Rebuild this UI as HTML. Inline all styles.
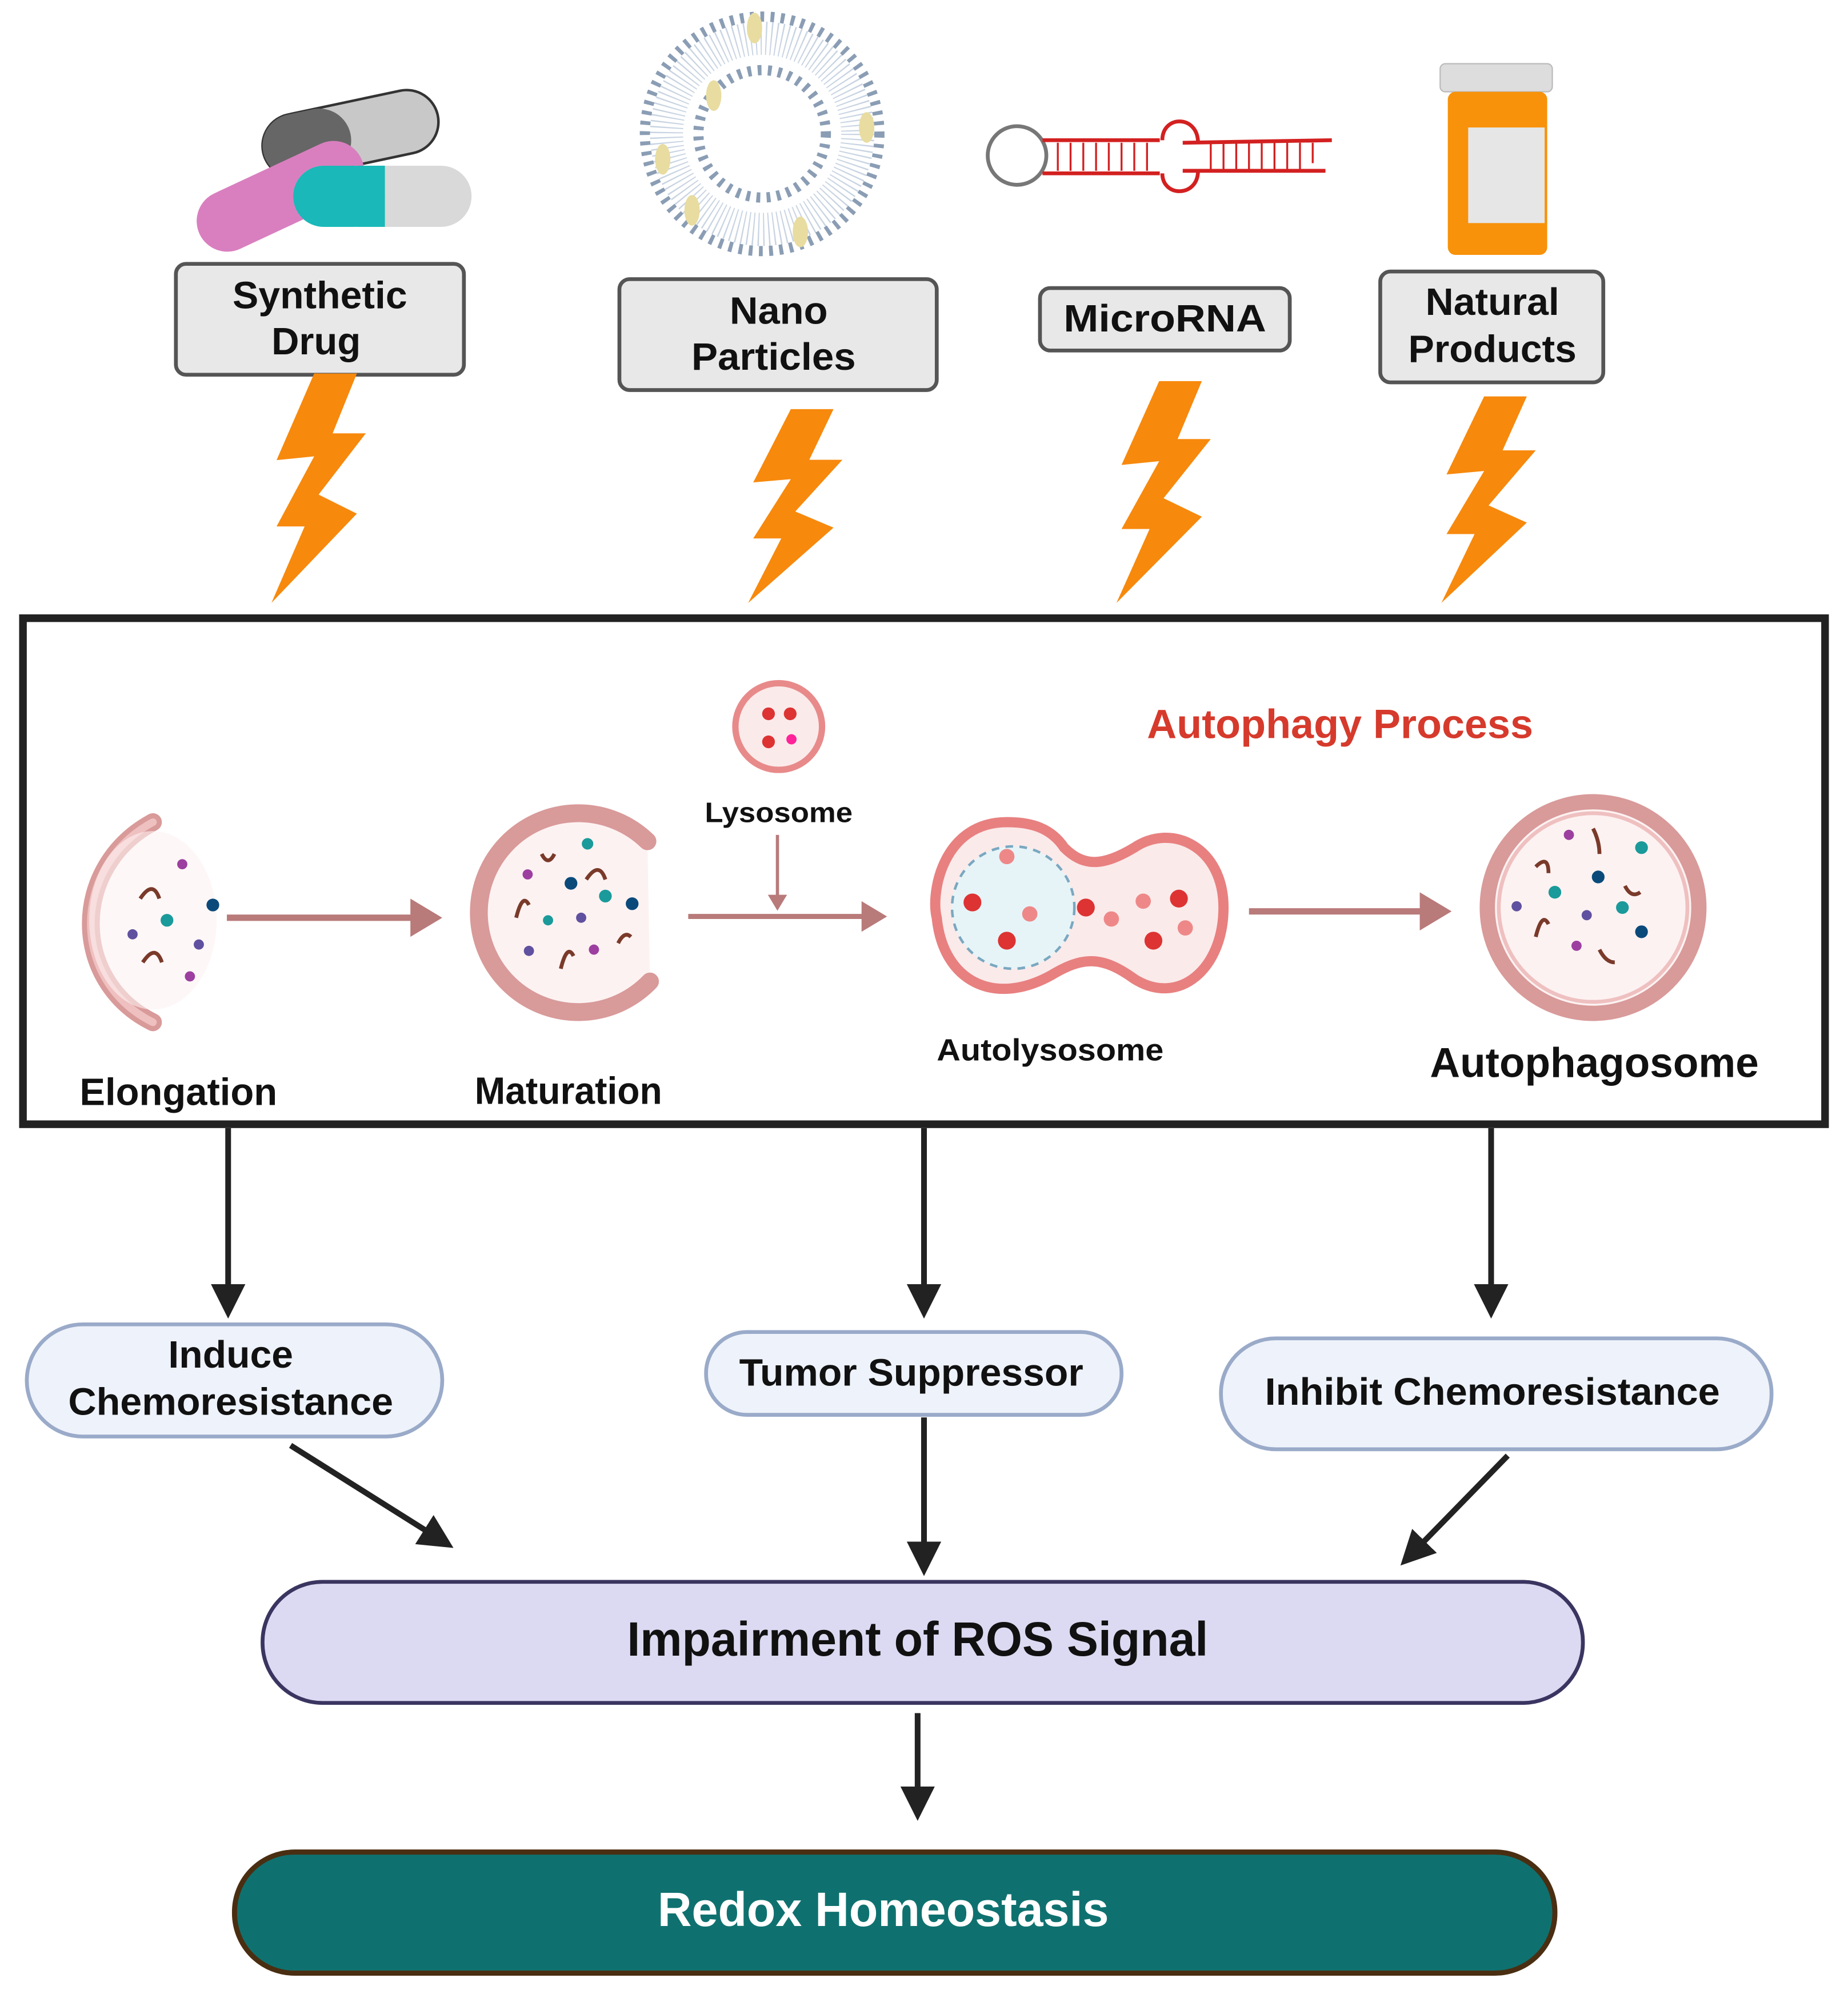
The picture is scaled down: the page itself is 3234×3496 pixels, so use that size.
<!DOCTYPE html>
<html><head><meta charset="utf-8"><style>html,body{margin:0;padding:0;background:#fff}svg{display:block}text{font-family:"Liberation Sans",sans-serif;font-weight:bold}</style></head>
<body>
<svg width="3234" height="3496" viewBox="0 0 1450 1567.5" xmlns="http://www.w3.org/2000/svg">
<defs>
<marker id="ah" markerWidth="6" markerHeight="6" refX="5" refY="3" orient="auto" markerUnits="strokeWidth"><path d="M0,0 L6,3 L0,6 z" fill="#222"/></marker>
<marker id="ap" markerWidth="5" markerHeight="6" refX="4" refY="3" orient="auto" markerUnits="strokeWidth"><path d="M0,0 L5,3 L0,6 z" fill="#b97a7a"/></marker>
<polygon id="bolt" points="33.5,0 67,0 48,47 74,47 37,95 67,110 0,180 26,120 4,120 33.5,65 4,68" fill="#f7890d"/>
</defs>
<rect width="1450" height="1567.5" fill="#fff"/>

<!-- capsules -->
<g>
<rect x="205" y="80" width="140" height="50" rx="25" fill="#c8c8c8" stroke="#333" stroke-width="2" transform="rotate(-12 275 105)"/>
<rect x="205" y="80" width="70" height="50" rx="25" fill="#666" transform="rotate(-12 275 105)"/>
<rect x="150" y="130" width="140" height="48" rx="24" fill="#d97fbf" transform="rotate(-25 220 154)"/>
<rect x="230" y="130" width="140" height="48" rx="24" fill="#d9d9d9"/>
<rect x="230" y="130" width="72" height="48" rx="24" fill="#1ab8b8"/>
<rect x="280" y="130" width="22" height="48" fill="#1ab8b8"/>
</g>
<!-- liposome -->
<g fill="none">
<circle cx="598" cy="105" r="92" stroke="#8a9db4" stroke-width="8" stroke-dasharray="3 5"/>
<circle cx="598" cy="105" r="75" stroke="#c9d4e2" stroke-width="26" stroke-dasharray="1 3"/>
<circle cx="598" cy="105" r="50" stroke="#8a9db4" stroke-width="8" stroke-dasharray="3 5"/>
<ellipse cx="592" cy="22" rx="6" ry="12" fill="#e8dca0"/>
<ellipse cx="560" cy="75" rx="6" ry="12" fill="#e8dca0"/>
<ellipse cx="680" cy="100" rx="6" ry="12" fill="#e8dca0"/>
<ellipse cx="520" cy="125" rx="6" ry="12" fill="#e8dca0"/>
<ellipse cx="543" cy="165" rx="6" ry="12" fill="#e8dca0"/>
<ellipse cx="628" cy="182" rx="6" ry="12" fill="#e8dca0"/>
</g>
<!-- microRNA -->
<g fill="none" stroke-width="3">
<circle cx="798" cy="122" r="23" stroke="#777"/>
<path d="M818,110 L910,110 M818,136 L910,136" stroke="#d32020"/>
<path d="M928,112 L1045,110 M928,134 L1040,134" stroke="#d32020"/>
<path d="M912,110 C912,90 940,90 940,112 M912,136 C912,155 940,155 940,134" stroke="#d32020"/>
<path d="M830,112 L830,134 M840,112 L840,134 M850,112 L850,134 M860,112 L860,134 M870,112 L870,134 M880,112 L880,134 M890,112 L890,134 M900,112 L900,134 M950,112 L950,134 M960,112 L960,134 M970,112 L970,134 M980,112 L980,134 M990,112 L990,134 M1000,112 L1000,134 M1010,112 L1010,134 M1020,112 L1020,134 M1030,112 L1030,128" stroke="#d32020" stroke-width="1.5"/>
</g>
<!-- pill bottle -->
<rect x="1130" y="50" width="88" height="22" rx="4" fill="#ddd" stroke="#bbb"/>
<rect x="1136" y="72" width="78" height="128" rx="6" fill="#f7920a"/>
<rect x="1152" y="100" width="60" height="75" fill="#e6e6e6"/>

<!-- top boxes -->
<g stroke="#555" stroke-width="3" fill="#e8e8e8">
<rect x="138" y="207" width="226" height="87" rx="8"/>
<rect x="486" y="219" width="249" height="87" rx="8"/>
<rect x="816" y="226" width="196" height="49" rx="8"/>
<rect x="1083" y="213" width="175" height="87" rx="8"/>
</g>
<g font-size="30" fill="#111" text-anchor="middle">
<text x="251" y="242" textLength="137" lengthAdjust="spacingAndGlyphs">Synthetic</text>
<text x="248" y="278" textLength="70" lengthAdjust="spacingAndGlyphs">Drug</text>
<text x="611" y="254" textLength="77" lengthAdjust="spacingAndGlyphs">Nano</text>
<text x="607" y="290" textLength="129" lengthAdjust="spacingAndGlyphs">Particles</text>
<text x="914" y="260" textLength="159" lengthAdjust="spacingAndGlyphs">MicroRNA</text>
<text x="1171" y="247" textLength="105" lengthAdjust="spacingAndGlyphs">Natural</text>
<text x="1171" y="284" textLength="132" lengthAdjust="spacingAndGlyphs">Products</text>
</g>

<!-- bolts -->
<use href="#bolt" transform="translate(213,293)"/>
<use href="#bolt" transform="translate(587,321) scale(1,0.845)"/>
<use href="#bolt" transform="translate(876,299) scale(1,0.967)"/>
<use href="#bolt" transform="translate(1131,311) scale(1,0.9)"/>

<!-- main box -->
<rect x="18" y="485" width="1414" height="397" fill="#fff" stroke="#222" stroke-width="6"/>
<text x="900" y="579" font-size="32" fill="#d63a2c" textLength="303" lengthAdjust="spacingAndGlyphs">Autophagy Process</text>

<!-- lysosome -->
<circle cx="611" cy="570" r="34" fill="#fbeaea" stroke="#e88a8a" stroke-width="5"/>
<circle cx="603" cy="560" r="5" fill="#d33"/><circle cx="620" cy="560" r="5" fill="#d33"/><circle cx="603" cy="582" r="5" fill="#d33"/><circle cx="621" cy="580" r="4" fill="#f29"/>
<text x="611" y="645" font-size="22" fill="#111" text-anchor="middle" textLength="116" lengthAdjust="spacingAndGlyphs">Lysosome</text>

<!-- elongation -->
<path d="M120,645 C55,680 55,770 120,802" fill="none" stroke="#d99a9a" stroke-width="14" stroke-linecap="round"/>
<path d="M120,645 C55,680 55,770 120,802" fill="none" stroke="#efc0c0" stroke-width="6" stroke-linecap="round"/>
<ellipse cx="120" cy="722" rx="50" ry="70" fill="#fdf2f2" opacity="0.6"/>
<g><circle cx="143" cy="678" r="4" fill="#9c3fa0"/><circle cx="167" cy="710" r="5" fill="#0a4a7a"/><circle cx="131" cy="722" r="5" fill="#1a9a9a"/><circle cx="104" cy="733" r="4" fill="#6050a0"/><circle cx="156" cy="741" r="4" fill="#6050a0"/><circle cx="149" cy="766" r="4" fill="#9c3fa0"/></g>
<path d="M110,705 q10,-15 15,0 M112,755 q10,-15 15,0" stroke="#7a3a2a" stroke-width="3" fill="none"/>

<!-- maturation -->
<path d="M508,660 A78,78 0 1 0 510,770" fill="#fdf2f2" stroke="#d99a9a" stroke-width="14" stroke-linecap="round"/>
<circle cx="461" cy="662" r="4.5" fill="#1a9a9a"/><circle cx="414" cy="686" r="4" fill="#9c3fa0"/><circle cx="448" cy="693" r="5" fill="#0a4a7a"/><circle cx="475" cy="703" r="5" fill="#1a9a9a"/><circle cx="496" cy="709" r="5" fill="#0a4a7a"/><circle cx="430" cy="722" r="4" fill="#1a9a9a"/><circle cx="456" cy="720" r="4" fill="#6050a0"/><circle cx="415" cy="746" r="4" fill="#6050a0"/><circle cx="466" cy="745" r="4" fill="#9c3fa0"/>
<path d="M425,670 q5,10 10,0 M460,690 q10,-15 15,0 M405,720 q5,-20 10,-10 M440,760 q5,-20 10,-10 M485,740 q5,-10 10,-5" stroke="#7a3a2a" stroke-width="3" fill="none"/>

<!-- autolysosome -->
<path d="M790,645 C740,645 730,700 735,720 C740,770 780,790 825,765 C850,750 865,750 890,768 C925,790 960,760 960,712 C960,665 920,645 890,665 C865,680 850,680 835,665 C825,650 810,645 790,645 Z" fill="#fbeaea" stroke="#e88080" stroke-width="8"/>
<circle cx="795" cy="712" r="48" fill="#e6f4f8" stroke="#7aa8c0" stroke-width="2" stroke-dasharray="6 5"/>
<g fill="#d33"><circle cx="763" cy="708" r="7"/><circle cx="790" cy="738" r="7"/><circle cx="852" cy="712" r="7"/><circle cx="905" cy="738" r="7"/><circle cx="925" cy="705" r="7"/></g>
<g fill="#ee8888"><circle cx="808" cy="717" r="6"/><circle cx="872" cy="721" r="6"/><circle cx="897" cy="707" r="6"/><circle cx="930" cy="728" r="6"/><circle cx="790" cy="672" r="6"/></g>
<text x="824" y="832" font-size="24" fill="#111" text-anchor="middle" textLength="178" lengthAdjust="spacingAndGlyphs">Autolysosome</text>

<!-- autophagosome -->
<circle cx="1250" cy="712" r="83" fill="#fdf2f2" stroke="#d99a9a" stroke-width="12"/>
<circle cx="1250" cy="712" r="74" fill="none" stroke="#efc0c0" stroke-width="3"/>
<circle cx="1231" cy="655" r="4" fill="#9c3fa0"/><circle cx="1288" cy="665" r="5" fill="#1a9a9a"/><circle cx="1254" cy="688" r="5" fill="#0a4a7a"/><circle cx="1220" cy="700" r="5" fill="#1a9a9a"/><circle cx="1273" cy="712" r="5" fill="#1a9a9a"/><circle cx="1190" cy="711" r="4" fill="#6050a0"/><circle cx="1245" cy="718" r="4" fill="#6050a0"/><circle cx="1288" cy="731" r="5" fill="#0a4a7a"/><circle cx="1237" cy="742" r="4" fill="#9c3fa0"/>
<path d="M1250,650 q5,10 5,20 M1205,680 q10,-10 10,5 M1275,695 q5,10 12,5 M1205,735 q5,-20 10,-10 M1255,745 q5,10 12,10" stroke="#7a3a2a" stroke-width="3" fill="none"/>

<!-- pink arrows -->
<g stroke="#b97a7a" stroke-width="5" fill="none">
<line x1="178" y1="720" x2="342" y2="720" marker-end="url(#ap)"/>
<line x1="540" y1="719" x2="692" y2="719" marker-end="url(#ap)" stroke-width="4"/>
<line x1="610" y1="655" x2="610" y2="712" marker-end="url(#ap)" stroke-width="2.5"/>
<line x1="980" y1="715" x2="1134" y2="715" marker-end="url(#ap)"/>
</g>

<g font-size="30" fill="#111" text-anchor="middle">
<text x="140" y="867" textLength="155" lengthAdjust="spacingAndGlyphs">Elongation</text>
<text x="446" y="866" textLength="147" lengthAdjust="spacingAndGlyphs">Maturation</text>
<text x="1251" y="845" font-size="33" textLength="258" lengthAdjust="spacingAndGlyphs">Autophagosome</text>
</g>

<!-- black arrows -->
<g stroke="#222" stroke-width="4.5" fill="none">
<line x1="179" y1="885" x2="179" y2="1030" marker-end="url(#ah)"/>
<line x1="725" y1="885" x2="725" y2="1030" marker-end="url(#ah)"/>
<line x1="1170" y1="885" x2="1170" y2="1030" marker-end="url(#ah)"/>
<line x1="228" y1="1134" x2="352" y2="1212" marker-end="url(#ah)"/>
<line x1="725" y1="1112" x2="725" y2="1232" marker-end="url(#ah)"/>
<line x1="1183" y1="1142" x2="1102" y2="1225" marker-end="url(#ah)"/>
<line x1="720" y1="1344" x2="720" y2="1424" marker-end="url(#ah)"/>
</g>

<!-- ovals -->
<g fill="#eef2fa" stroke="#9aaac9" stroke-width="3">
<rect x="21" y="1039" width="326" height="88" rx="44"/>
<rect x="554" y="1045" width="326" height="65" rx="32"/>
<rect x="958" y="1050" width="432" height="87" rx="43"/>
</g>
<g font-size="30" fill="#111" text-anchor="middle">
<text x="181" y="1073" textLength="98" lengthAdjust="spacingAndGlyphs">Induce</text>
<text x="181" y="1110" textLength="255" lengthAdjust="spacingAndGlyphs">Chemoresistance</text>
<text x="715" y="1087" textLength="270" lengthAdjust="spacingAndGlyphs">Tumor Suppressor</text>
<text x="1171" y="1102" textLength="357" lengthAdjust="spacingAndGlyphs">Inhibit Chemoresistance</text>
</g>

<rect x="206" y="1241" width="1036" height="95" rx="47" fill="#dcdaf2" stroke="#3a3560" stroke-width="3"/>
<text x="720" y="1299" font-size="38" fill="#111" text-anchor="middle" textLength="456" lengthAdjust="spacingAndGlyphs">Impairment of ROS Signal</text>

<rect x="184" y="1453" width="1036" height="95" rx="47" fill="#0f716f" stroke="#4a2e12" stroke-width="4"/>
<text x="693" y="1511" font-size="38" fill="#fff" text-anchor="middle" textLength="354" lengthAdjust="spacingAndGlyphs">Redox Homeostasis</text>
</svg>
</body></html>
